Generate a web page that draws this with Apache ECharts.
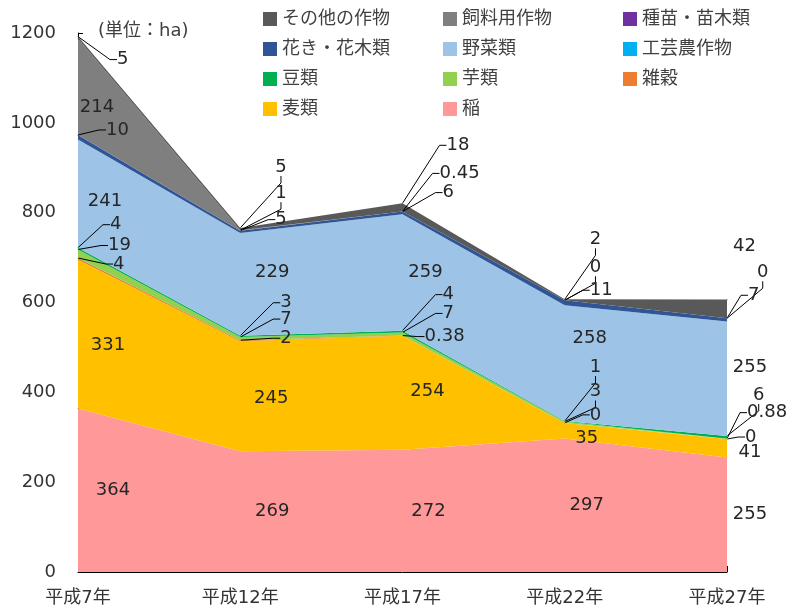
<!DOCTYPE html>
<html>
<head>
<meta charset="utf-8">
<script src="https://cdn.jsdelivr.net/npm/echarts@6/dist/echarts.min.js"></script>
<style>
  html, body { margin: 0; padding: 0; background: #fff; }
  #main { width: 792px; height: 609px; }
</style>
</head>
<body>
<div id="main"></div>
<script>
// 作付面積 (単位：ha)
const years = ['平成7年', '平成12年', '平成17年', '平成22年', '平成27年'];
const ine = [364, 269, 272, 297, 255];       // 稲
const mugi = [331, 245, 254, 35, 41];        // 麦類
const zakkoku = [4, 2, 0.38, 0, 0];          // 雑穀
const imo = [19, 7, 7, 3, 0.88];             // 芋類
const mame = [4, 3, 4, 1, 6];                // 豆類
const kougei = [];                           // 工芸農作物
const yasai = [241, 229, 259, 258, 255];     // 野菜類
const kaki = [10, 5, 6, 11, 7];              // 花き・花木類
const shubyo = [];                           // 種苗・苗木類
const shiryo = [214, 1, 0.45, 0, 0];         // 飼料用作物
const sonota = [5, 5, 18, 2, 42];            // その他の作物
const yMax = 1200, yStep = 200;

// 積み上げ順（下から）
const seriesDefs = [
  ['稲', ine, '#ff9999'],
  ['麦類', mugi, '#ffc000'],
  ['雑穀', zakkoku, '#ed7d31'],
  ['芋類', imo, '#92d050'],
  ['豆類', mame, '#00b050'],
  ['工芸農作物', kougei, '#00b0f0'],
  ['野菜類', yasai, '#9dc3e6'],
  ['花き・花木類', kaki, '#2f5597'],
  ['種苗・苗木類', shubyo, '#7030a0'],
  ['飼料用作物', shiryo, '#7f7f7f'],
  ['その他の作物', sonota, '#595959']
];
const legendOrder = ['その他の作物', '飼料用作物', '種苗・苗木類', '花き・花木類', '野菜類',
  '工芸農作物', '豆類', '芋類', '雑穀', '麦類', '稲'];

// ラベル位置: m = 帯の中央 (dx, dy補正), l = 引き出し線つき (左端dx, dy), n = 線なし
const place = {
  '稲': [['m', 35, 0], ['m', 32, 0], ['m', 26, 0], ['m', 22, 0], ['m', 23, 0]],
  '麦類': [['m', 30, 11], ['m', 31, 2], ['m', 25, -1], ['m', 22, 8], ['m', 23, 4]],
  '雑穀': [['l', 35, 6], ['l', 40, -2], ['l', 22, 1], ['l', 25, -8], ['l', 18, -2]],
  '芋類': [['l', 30, -4], ['l', 40, -18], ['l', 40, -19], ['l', 25, -30], ['l', 20, -26]],
  '豆類': [['l', 32, -23], ['l', 40, -33], ['l', 40, -36], ['l', 25, -54], ['l', 26, -41]],
  '野菜類': [['m', 27, 8], ['m', 32, -12], ['m', 23, 0], ['m', 25, -25], ['m', 23, -11]],
  '花き・花木類': [['l', 28, -5], ['l', 35, -11], ['l', 40, -19], ['l', 25, -10], ['l', 21, -23]],
  '飼料用作物': [['m', 19, 20], ['l', 35, -37], ['l', 37, -38], ['l', 25, -33], ['l', 30, -46]],
  'その他の作物': [['l', 39, 23], ['l', 35, -61], ['l', 44, -58], ['l', 25, -60], ['n', 6, -53]]
};

const font = "'DejaVu Sans', 'Noto Sans CJK JP', sans-serif";
const textColor = '#262626';
const gridTop = 33, gridBottom = 37;
const ppu = (609 - gridTop - gridBottom) / yMax;

const chart = echarts.init(document.getElementById('main'));

const series = seriesDefs.map(function (d) {
  const name = d[0], values = d[1], color = d[2];
  const spec = place[name];
  return {
    name: name,
    type: 'line',
    stack: 'total',
    clip: false,
    symbol: 'circle',
    symbolSize: 1,
    lineStyle: { width: 0 },
    itemStyle: { color: color },
    areaStyle: { color: color, opacity: 1 },
    label: {
      show: values.length > 0,
      position: 'inside',
      fontSize: 18,
      fontFamily: font,
      color: textColor
    },
    labelLine: {
      show: true,
      length2: 7,
      lineStyle: { color: '#000', width: 1 }
    },
    labelLayout: function (p) {
      const s = spec[p.dataIndex];
      const px = p.rect.x + p.rect.width / 2;
      const py = p.rect.y + p.rect.height / 2;
      if (s[0] === 'm') {
        return { x: px + s[1], y: py + values[p.dataIndex] / 2 * ppu + s[2], align: 'center', verticalAlign: 'middle' };
      }
      return { x: px + s[1], y: py + s[2], align: 'left', verticalAlign: 'middle' };
    },
    emphasis: { disabled: true },
    data: values.map(function (v, i) {
      return { value: v, labelLine: { show: spec[i][0] === 'l' } };
    })
  };
});

// 凡例 3列 x 4行
const legendCols = [263, 443, 623];
const legendRows = [20, 50, 80, 110];
const legends = legendOrder.map(function (name, i) {
  return {
    data: [name],
    left: legendCols[i % 3],
    top: legendRows[Math.floor(i / 3)] - 10,
    padding: 0,
    icon: 'rect',
    itemWidth: 14,
    itemHeight: 14,
    selectedMode: false,
    itemStyle: { opacity: 1 },
    textStyle: { fontSize: 18, fontFamily: font, color: '#404040' }
  };
});

chart.setOption({
  animation: false,
  backgroundColor: '#fff',
  title: {
    text: '(単位：ha)',
    left: 98,
    top: 22,
    padding: 0,
    textStyle: { fontSize: 18, fontWeight: 'normal', fontFamily: font, color: '#404040' }
  },
  legend: legends,
  grid: { left: 78, right: 65, top: gridTop, bottom: gridBottom },
  xAxis: {
    type: 'category',
    data: years,
    boundaryGap: false,
    axisLine: { show: true, lineStyle: { color: '#000', width: 1 } },
    axisTick: { show: true, inside: true, length: 6, interval: 0, lineStyle: { color: '#000' } },
    axisLabel: { fontSize: 18, fontFamily: font, color: '#333', margin: 17, interval: 0 },
    splitLine: { show: false }
  },
  yAxis: {
    type: 'value',
    min: 0,
    max: yMax,
    interval: yStep,
    axisLine: { show: true, lineStyle: { color: '#000', width: 1 } },
    axisTick: { show: true, inside: true, length: 5, lineStyle: { color: '#000' } },
    axisLabel: {
      fontSize: 18, fontFamily: font, color: '#333', margin: 22,
      formatter: function (v) { return String(v); }
    },
    splitLine: { show: false }
  },
  series: series
});
</script>
</body>
</html>
